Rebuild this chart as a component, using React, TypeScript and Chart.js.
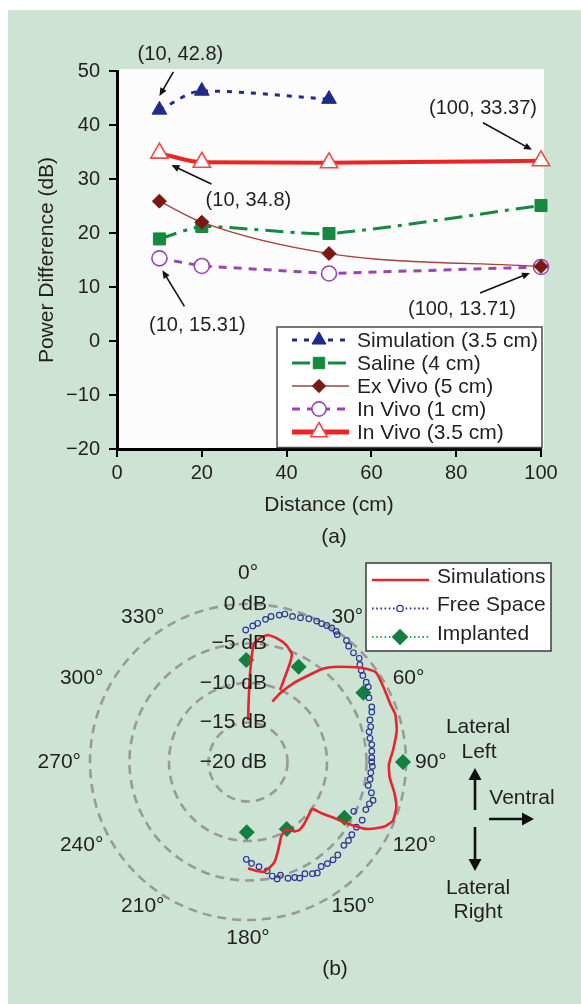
import React, { useEffect, useRef } from 'react';
import { Chart, registerables } from 'chart.js';

Chart.register(...registerables);

const FONT = '"Liberation Sans", Arial, Helvetica, sans-serif';
const INK = '#231f20';
const PANEL = '#cde4d5';

// ---------------- (a) Power difference vs distance ----------------
const distanceCm = [10, 20, 50, 100];
const simulationDb = [42.8, 46.3, 44.8, null];
const salineDb = [18.9, 21.2, 19.9, 25.1];
const exVivoDb = [25.9, 22.0, 16.2, 13.8];
const inVivo1Db = [15.31, 13.9, 12.5, 13.71];
const inVivo35Db = [34.8, 33.1, 33.0, 33.37];
const seriesNamesA = ['Simulation (3.5 cm)', 'Saline (4 cm)', 'Ex Vivo (5 cm)', 'In Vivo (1 cm)', 'In Vivo (3.5 cm)'];

const calloutDistance = [10, 10, 100, 10, 100];
const calloutDb = [42.8, 34.8, 33.37, 15.31, 13.71];
// pixel offsets of callout text / arrow relative to the annotated point
const calloutLayout = [
  { tx: 21, ty: -55, ax0: 14, ay0: -38, ax1: 0, ay1: -14 },
  { tx: 89, ty: 47, ax0: 52, ay0: 31, ax1: 12, ay1: 12 },
  { tx: -58, ty: -52, ax0: -58, ay0: -38, ax1: -9, ay1: -11 },
  { tx: 38, ty: 67, ax0: 25, ay0: 48, ax1: 3, ay1: 12 },
  { tx: -79, ty: 43, ax0: -61, ay0: 26, ax1: -11, ay1: 6 },
];

// ---------------- (b) Radiation pattern (angle in deg, level in dB) ----------------
const simAnglesA = [0, 1, 2, 3, 6, 9, 13, 18, 22, 23, 24];
const simDbA = [-14.7, -10.0, -6.66, -4.95, -4.14, -3.72, -3.92, -4.41, -5.2, -6.42, -10.03];
const simAnglesB = [22, 25, 30, 35, 39, 42, 47, 52, 55, 61, 68, 72, 78, 85, 91, 96, 102, 107, 112, 115,
  117, 119, 120, 121, 122, 123, 125, 126, 131, 138, 143, 146, 149, 152, 156, 161, 165, 169, 172, 176, 180];
const simDbB = [-11.77, -10.4, -8.5, -6.6, -4.78, -3.81, -2.38, -0.86, -0.22, -0.4, -0.55, -0.4, -0.75, -1.54, -2.16, -1.98, -1.05, -0.37, -0.2, -0.8,
  -1.6, -2.5, -3.2, -4.3, -5.5, -6.9, -8.8, -9.9, -9.8, -9.4, -9.22, -9.41, -10.0, -10.16, -9.66, -8.24, -6.95, -6.28, -5.96, -6.2, -6.54];
const freeAngles = [359, 2, 4, 7, 9, 12, 14, 17, 20, 23, 26, 28, 30, 32, 34, 35, 39, 41, 44, 47,
  49, 51, 53, 56, 58, 62, 66, 68, 71, 74, 76, 79, 82, 85, 88, 90, 92, 95, 98, 101,
  104, 107, 109, 112, 115, 117, 121, 125, 128, 131, 136, 139, 142, 145, 148, 150, 153, 156, 158, 161,
  164, 166, 168, 170, 174, 178, 181];
const freeDb = [-3.29, -2.77, -2.4, -1.81, -1.35, -0.99, -0.7, -0.73, -0.57, -0.3, -0.15, -0.16, -0.05, 0, -0.05, -0.32, -0.19, -0.57, -0.78, -0.75,
  -1.24, -1.56, -1.8, -1.95, -2.04, -2.66, -2.85, -3.1, -3.67, -3.84, -4.2, -4.27, -4.18, -4.27, -4.33, -4.34, -4.25, -4.4, -4.39, -4.49,
  -3.9, -3.45, -3.75, -3.91, -5.23, -3.78, -3.99, -3.95, -3.86, -3.92, -3.64, -3.6, -3.68, -3.85, -3.44, -3.67, -4.13, -3.91, -4.23, -4.44,
  -5.09, -4.75, -5.24, -6.01, -6.68, -7.16, -7.68];
const implAngles = [359, 28, 59, 90, 120, 150, 181];
const implDb = [-7.09, -6.35, -2.97, -0.38, -5.9, -10.2, -11.1];
const angleTickLabels = [0, 30, 60, 90, 120, 150, 180, 210, 240, 270, 300, 330];

// ---------------- helpers ----------------
function drawMarker(ctx: CanvasRenderingContext2D, style: string, x: number, y: number, r: number, fill: string | null, stroke: string | null, lw: number) {
  ctx.save();
  ctx.beginPath();
  if (style === 'circle') {
    ctx.arc(x, y, r, 0, Math.PI * 2);
  } else if (style === 'triangle') {
    let a = 0;
    ctx.moveTo(x + Math.sin(a) * r, y - Math.cos(a) * r);
    a += (2 * Math.PI) / 3;
    ctx.lineTo(x + Math.sin(a) * r, y - Math.cos(a) * r);
    a += (2 * Math.PI) / 3;
    ctx.lineTo(x + Math.sin(a) * r, y - Math.cos(a) * r);
    ctx.closePath();
  } else if (style === 'rect') {
    const s = r * Math.SQRT1_2;
    ctx.rect(x - s, y - s, 2 * s, 2 * s);
  } else if (style === 'rectRot') {
    ctx.moveTo(x - r, y);
    ctx.lineTo(x, y - r);
    ctx.lineTo(x + r, y);
    ctx.lineTo(x, y + r);
    ctx.closePath();
  }
  if (fill) { ctx.fillStyle = fill; ctx.fill(); }
  if (stroke && lw > 0) { ctx.strokeStyle = stroke; ctx.lineWidth = lw; ctx.stroke(); }
  ctx.restore();
}

function arrow(ctx: CanvasRenderingContext2D, x0: number, y0: number, x1: number, y1: number, lw: number, head: number, halfW: number, color: string) {
  const ang = Math.atan2(y1 - y0, x1 - x0);
  const c = Math.cos(ang), s = Math.sin(ang);
  ctx.save();
  ctx.strokeStyle = color;
  ctx.fillStyle = color;
  ctx.lineWidth = lw;
  ctx.setLineDash([]);
  ctx.beginPath();
  ctx.moveTo(x0, y0);
  ctx.lineTo(x1 - c * head * 0.7, y1 - s * head * 0.7);
  ctx.stroke();
  ctx.beginPath();
  ctx.moveTo(x1, y1);
  ctx.lineTo(x1 - c * head + s * halfW, y1 - s * head - c * halfW);
  ctx.lineTo(x1 - c * head - s * halfW, y1 - s * head + c * halfW);
  ctx.closePath();
  ctx.fill();
  ctx.restore();
}

function toRadar(angles: number[], vals: number[]) {
  const arr: (number | null)[] = new Array(360).fill(null);
  angles.forEach((a, i) => { arr[((a % 360) + 360) % 360] = vals[i]; });
  return arr;
}

const minusFmt = (v: number) => (v < 0 ? '\u2212' + Math.abs(v) : String(v));
const dbFmt = (v: number) => (v === 0 ? '0 dB' : `\u2212${Math.abs(v)} dB`);

// ---------------- chart (a) ----------------
function buildTopConfig(): any {
  const pts = (ys: (number | null)[]) => distanceCm.map((x, i) => ({ x, y: ys[i] })).filter((p) => p.y !== null);
  const NAVY = '#1f2b88';
  const GREEN = '#14893f';
  const BROWN = '#a3433a';
  const MAROON = '#7a1912';
  const PURPLE = '#9a45b5';
  const RED = '#ee2424';

  const datasets = [
    { label: seriesNamesA[0], data: pts(simulationDb), borderColor: NAVY, borderWidth: 3, borderDash: [5, 7], cubicInterpolationMode: 'monotone',
      pointStyle: 'triangle', pointRadius: 8.5, pointBackgroundColor: NAVY, pointBorderColor: NAVY, pointBorderWidth: 1, order: 1 },
    { label: seriesNamesA[1], data: pts(salineDb), borderColor: GREEN, borderWidth: 3, borderDash: [18, 7, 4, 7], tension: 0.2,
      pointStyle: 'rect', pointRadius: 8.5, pointBackgroundColor: GREEN, pointBorderColor: GREEN, pointBorderWidth: 1, order: 2 },
    { label: seriesNamesA[2], data: pts(exVivoDb), borderColor: BROWN, borderWidth: 1.3, borderDash: [], cubicInterpolationMode: 'monotone',
      pointStyle: 'rectRot', pointRadius: 7, pointBackgroundColor: MAROON, pointBorderColor: MAROON, pointBorderWidth: 1, order: 0 },
    { label: seriesNamesA[3], data: pts(inVivo1Db), borderColor: PURPLE, borderWidth: 3, borderDash: [8, 7],
      pointStyle: 'circle', pointRadius: 7.5, pointBackgroundColor: '#ffffff', pointBorderColor: PURPLE, pointBorderWidth: 1.6, order: 2 },
    { label: seriesNamesA[4], data: pts(inVivo35Db), borderColor: RED, borderWidth: 4, borderDash: [], cubicInterpolationMode: 'monotone',
      pointStyle: 'triangle', pointRadius: 10, pointBackgroundColor: '#ffffff', pointBorderColor: '#f04a45', pointBorderWidth: 1.6, order: 1 },
  ].map((d) => ({ ...d, fill: false, clip: false, showLine: true }));

  const decor = {
    id: 'decorA',
    beforeDraw(chart: any) {
      const { ctx, chartArea: ca } = chart;
      ctx.save();
      ctx.fillStyle = '#fcfcfd';
      ctx.fillRect(ca.left, ca.top - 2, ca.right - ca.left + 3, ca.bottom - ca.top + 2);
      ctx.restore();
    },
    afterDraw(chart: any) {
      const { ctx, chartArea: ca } = chart;
      const xs = chart.scales.x, ys = chart.scales.y;
      // legend box
      const box = { l: ca.left + 160, t: ca.bottom - 122, r: ca.right + 1, b: ca.bottom - 1.5 };
      ctx.save();
      ctx.fillStyle = '#ffffff';
      ctx.fillRect(box.l, box.t, box.r - box.l, box.b - box.t);
      ctx.strokeStyle = '#4a4a4a';
      ctx.lineWidth = 1.5;
      ctx.strokeRect(box.l, box.t, box.r - box.l, box.b - box.t);
      chart.data.datasets.forEach((ds: any, i: number) => {
        const y = box.t + 13 + i * 23;
        ctx.save();
        ctx.strokeStyle = ds.borderColor;
        ctx.lineWidth = i === 4 ? 5 : ds.borderWidth;
        ctx.setLineDash(ds.borderDash || []);
        ctx.beginPath();
        ctx.moveTo(box.l + 15, y);
        ctx.lineTo(box.l + 72, y);
        ctx.stroke();
        ctx.restore();
        drawMarker(ctx, ds.pointStyle, box.l + 42, y, ds.pointRadius * 0.95, ds.pointBackgroundColor, ds.pointBorderColor, ds.pointBorderWidth);
        ctx.fillStyle = INK;
        ctx.font = `21px ${FONT}`;
        ctx.textAlign = 'left';
        ctx.textBaseline = 'middle';
        ctx.fillText(ds.label, box.l + 80, y + 1);
      });
      // callouts
      ctx.font = `20px ${FONT}`;
      ctx.fillStyle = INK;
      ctx.textAlign = 'center';
      ctx.textBaseline = 'middle';
      calloutDistance.forEach((xv, i) => {
        const px = xs.getPixelForValue(xv);
        const py = ys.getPixelForValue(calloutDb[i]);
        const L = calloutLayout[i];
        ctx.fillText(`(${xv}, ${calloutDb[i]})`, px + L.tx, py + L.ty);
        arrow(ctx, px + L.ax0, py + L.ay0, px + L.ax1, py + L.ay1, 1.6, 8, 3.5, '#111');
      });
      // panel caption
      ctx.font = `21px ${FONT}`;
      ctx.fillText('(a)', 334, 537);
      ctx.restore();
    },
  };

  const axisCommon = {
    grid: { drawOnChartArea: false, drawTicks: true, tickLength: 8, color: '#000', lineWidth: 2 },
    border: { display: true, color: '#000', width: 3 },
  };

  return {
    type: 'line',
    data: { datasets },
    options: {
      animation: false,
      responsive: false,
      devicePixelRatio: 1,
      layout: { padding: { left: 0, right: 40, top: 71, bottom: 0 } },
      plugins: { legend: { display: false }, tooltip: { enabled: false } },
      scales: {
        x: {
          type: 'linear', min: 0, max: 100,
          ...axisCommon,
          ticks: { stepSize: 20, color: INK, font: { size: 20, family: FONT }, padding: 4 },
          title: { display: true, text: 'Distance (cm)', color: INK, font: { size: 21, family: FONT }, padding: { top: 0, bottom: 34 } },
          afterFit: (s: any) => { s.height = 103; },
        },
        y: {
          type: 'linear', min: -20, max: 50,
          ...axisCommon,
          ticks: { stepSize: 10, color: INK, font: { size: 20, family: FONT }, padding: 9, callback: (v: any) => minusFmt(Number(v)) },
          title: { display: true, text: 'Power Difference (dB)', color: INK, font: { size: 21, family: FONT }, padding: { top: 35, bottom: 0 } },
          afterFit: (s: any) => { s.width = 117; },
        },
      },
    },
    plugins: [decor],
  };
}

// ---------------- chart (b) ----------------
function buildPolarConfig(): any {
  const RED = '#e8242b';
  const BLUE = '#2b3596';
  const GREEN = '#138040';

  const datasets = [
    { label: 'Simulations', data: toRadar(simAnglesA, simDbA), borderColor: RED, borderWidth: 2.6, pointRadius: 0, spanGaps: true, tension: 0.15,
      openCurve: true, inLegend: true, legendDash: [], legendStyle: null },
    { label: 'Simulations', data: toRadar(simAnglesB, simDbB), borderColor: RED, borderWidth: 2.6, pointRadius: 0, spanGaps: true, tension: 0.15,
      openCurve: true, inLegend: false },
    { label: 'Free Space', data: toRadar(freeAngles, freeDb), borderColor: BLUE, showLine: false, pointStyle: 'circle', pointRadius: 2.8,
      pointBorderWidth: 1.2, pointBorderColor: BLUE, pointBackgroundColor: 'rgba(0,0,0,0)', inLegend: true, legendDash: [1.6, 2.6],
      legendLine: BLUE, legendStyle: 'circle' },
    { label: 'Implanted', data: toRadar(implAngles, implDb), borderColor: '#27b34d', showLine: false, pointStyle: 'rectRot', pointRadius: 8,
      pointBorderWidth: 0, pointBackgroundColor: GREEN, pointBorderColor: GREEN, inLegend: true, legendDash: [1.6, 2.6],
      legendLine: '#27b34d', legendStyle: 'rectRot' },
  ].map((d) => ({ ...d, fill: false, clip: false, backgroundColor: 'rgba(0,0,0,0)' }));

  const noLoop = {
    id: 'noLoop',
    afterDatasetUpdate(chart: any, args: any) {
      const ds = chart.data.datasets[args.index];
      if (ds && ds.openCurve && args.meta && args.meta.dataset) {
        args.meta.dataset._loop = false;
        args.meta.dataset._fullLoop = false;
      }
    },
  };

  const decor = {
    id: 'decorB',
    afterDraw(chart: any) {
      const { ctx } = chart;
      const r = chart.scales.r;
      ctx.save();
      ctx.fillStyle = INK;
      ctx.font = `21px ${FONT}`;
      ctx.textBaseline = 'middle';

      // radial tick labels (library tick values/positions, right-aligned as in the figure)
      ctx.textAlign = 'right';
      r.ticks.forEach((t: any) => {
        const d = r.getDistanceFromCenterForValue(t.value);
        ctx.fillText(dbFmt(t.value), r.xCenter + 19, r.yCenter - d);
      });

      // angular labels
      angleTickLabels.forEach((a) => {
        const txt = `${a}\u00b0`;
        if (a === 0 || a === 180) {
          const p = r.getPointPosition(a, a === 0 ? 189 : 176);
          ctx.textAlign = 'center';
          ctx.fillText(txt, p.x, p.y);
        } else {
          const p = r.getPointPosition(a, 167);
          ctx.textAlign = a < 180 ? 'left' : 'right';
          ctx.fillText(txt, p.x, p.y);
        }
      });

      // legend
      const box = { l: 366, t: 11, r: 551, b: 99 };
      ctx.fillStyle = '#ffffff';
      ctx.fillRect(box.l, box.t, box.r - box.l, box.b - box.t);
      ctx.strokeStyle = '#3a3a3a';
      ctx.lineWidth = 1.5;
      ctx.strokeRect(box.l, box.t, box.r - box.l, box.b - box.t);
      let row = 0;
      chart.data.datasets.forEach((ds: any) => {
        if (!ds.inLegend) return;
        const y = box.t + 17 + row * 28.5;
        row++;
        ctx.save();
        ctx.strokeStyle = ds.legendLine || ds.borderColor;
        ctx.lineWidth = ds.legendStyle ? 1.8 : ds.borderWidth;
        ctx.setLineDash(ds.legendDash || []);
        ctx.beginPath();
        ctx.moveTo(box.l + 6, y);
        ctx.lineTo(box.l + 63, y);
        ctx.stroke();
        ctx.restore();
        if (ds.legendStyle === 'circle') drawMarker(ctx, 'circle', box.l + 34, y, 3.2, '#ffffff', ds.pointBorderColor, 1.3);
        if (ds.legendStyle === 'rectRot') drawMarker(ctx, 'rectRot', box.l + 34, y, 8.3, ds.pointBackgroundColor, null, 0);
        ctx.fillStyle = INK;
        ctx.font = `21px ${FONT}`;
        ctx.textAlign = 'left';
        ctx.textBaseline = 'middle';
        ctx.fillText(ds.label, box.l + 71, y - 3);
      });

      // orientation key
      ctx.fillStyle = INK;
      ctx.textAlign = 'center';
      ctx.fillText('Lateral', 478, 175);
      ctx.fillText('Left', 479, 200);
      ctx.fillText('Ventral', 522, 246);
      ctx.fillText('Lateral', 478, 336);
      ctx.fillText('Right', 478, 360);
      arrow(ctx, 475, 258, 475, 216, 2.6, 12, 6.5, '#111');
      arrow(ctx, 489, 267, 534, 267, 2.6, 12, 6.5, '#111');
      arrow(ctx, 475, 275, 475, 319, 2.6, 12, 6.5, '#111');
      ctx.fillText('(b)', 335, 417);
      ctx.restore();
    },
  };

  return {
    type: 'radar',
    data: { labels: Array.from({ length: 360 }, (_, i) => String(i)), datasets },
    options: {
      animation: false,
      responsive: false,
      devicePixelRatio: 1,
      layout: { padding: { left: 78, right: 162, top: 40, bottom: 71 } },
      plugins: { legend: { display: false }, tooltip: { enabled: false } },
      scales: {
        r: {
          min: -20,
          max: 0,
          afterFit: (s: any) => { s.xCenter = 248; s.yCenter = 210; s.drawingArea = 158; },
          ticks: { stepSize: 5, display: false, showLabelBackdrop: false },
          grid: { circular: true, color: '#999999', lineWidth: 2.6 },
          border: { dash: [9, 6] },
          angleLines: { display: false },
          pointLabels: { display: false },
        },
      },
    },
    plugins: [noLoop, decor],
  };
}

export default function App() {
  const topRef = useRef<HTMLCanvasElement>(null);
  const botRef = useRef<HTMLCanvasElement>(null);

  useEffect(() => {
    Chart.defaults.font.family = FONT;
    Chart.defaults.color = INK;
    const c1 = new Chart(topRef.current as HTMLCanvasElement, buildTopConfig());
    const c2 = new Chart(botRef.current as HTMLCanvasElement, buildPolarConfig());
    return () => {
      c1.destroy();
      c2.destroy();
    };
  }, []);

  return (
    <div style={{ position: 'absolute', left: 0, top: 0, width: 581, height: 1004, background: '#ffffff', overflow: 'hidden' }}>
      <div style={{ position: 'absolute', left: 8, top: 10, width: 573, height: 994, background: PANEL }} />
      <canvas ref={topRef} width={581} height={552} style={{ position: 'absolute', left: 0, top: 0, width: 581, height: 552 }} />
      <canvas ref={botRef} width={581} height={452} style={{ position: 'absolute', left: 0, top: 552, width: 581, height: 452 }} />
    </div>
  );
}
